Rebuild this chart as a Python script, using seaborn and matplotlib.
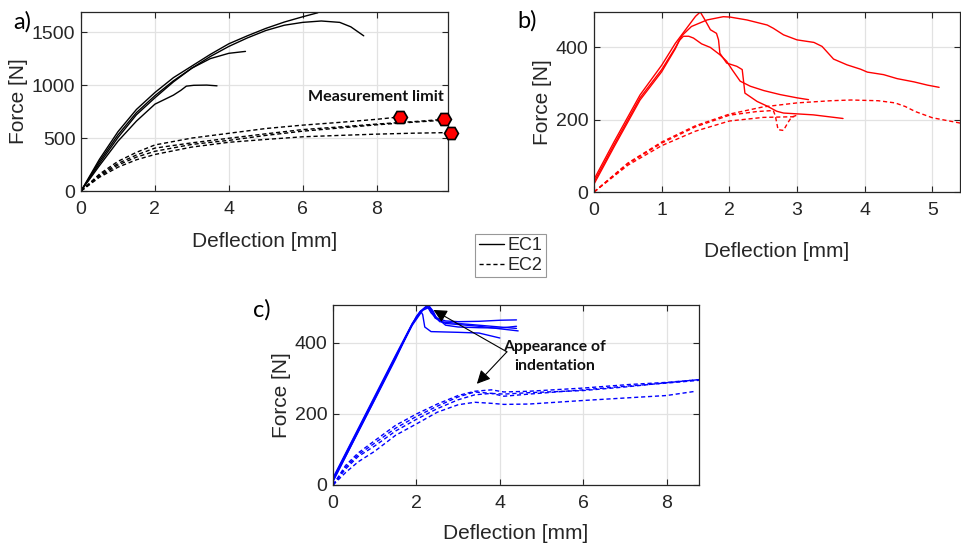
import numpy as np
import pandas as pd
import matplotlib
matplotlib.use('Agg')
import matplotlib.pyplot as plt
import seaborn as sns
from matplotlib.lines import Line2D

sns.set_theme(style='ticks')
plt.rcParams['font.family'] = ['Liberation Sans', 'DejaVu Sans']
plt.rcParams['lines.dashed_pattern'] = [3.0, 2.0]

# ---------------- Panel a (black) ----------------
a_ec1_1_x = [0, 0.5, 1, 1.5, 2, 2.5, 3, 3.5, 4, 4.5, 5, 5.5, 6, 6.41]
a_ec1_1_y = [0, 300, 560, 770, 930, 1070, 1180, 1290, 1390, 1465, 1535, 1595, 1645, 1683]
a_ec1_2_x = [0, 0.5, 1, 1.5, 2, 2.5, 3, 3.5, 4, 4.5, 5, 5.5, 6, 6.5, 7, 7.3, 7.65]
a_ec1_2_y = [0, 280, 530, 740, 900, 1040, 1160, 1270, 1365, 1445, 1515, 1565, 1592, 1605, 1592, 1550, 1465]
a_ec1_3_x = [0, 0.5, 1, 1.5, 2, 2.5, 3, 3.5, 4, 4.45]
a_ec1_3_y = [0, 260, 505, 720, 880, 1030, 1160, 1250, 1300, 1318]
a_ec1_4_x = [0, 0.5, 1, 1.5, 2, 2.5, 2.7, 2.85, 3.05, 3.4, 3.68]
a_ec1_4_y = [0, 240, 470, 660, 820, 905, 950, 990, 998, 1000, 993]

a_ec2_1_x = [0, 0.5, 1, 1.5, 2, 3, 4, 5, 6, 7, 8, 8.64]
a_ec2_1_y = [0, 160, 280, 365, 435, 500, 545, 590, 622, 648, 677, 700]
a_ec2_2_x = [0, 0.5, 1, 1.5, 2, 3, 4, 5, 6, 7, 8, 9, 9.81]
a_ec2_2_y = [0, 150, 260, 340, 405, 455, 498, 540, 580, 605, 632, 655, 676]
a_ec2_3_x = [0, 0.5, 1, 1.5, 2, 3, 4, 5, 6, 7, 8, 9, 9.81]
a_ec2_3_y = [0, 140, 245, 320, 375, 440, 478, 525, 565, 595, 625, 650, 668]
a_ec2_4_x = [0, 0.5, 1, 1.5, 2, 3, 4, 5, 6, 7, 8, 9, 10.0]
a_ec2_4_y = [0, 130, 225, 295, 345, 415, 460, 487, 512, 525, 537, 546, 552]

limit_x = [8.64, 9.81, 10.0]
limit_y = [700, 676, 552]

# ---------------- Panel b (red) ----------------
b_ec1_1_x = [0, 0.3, 0.68, 1.0, 1.2, 1.4, 1.5, 1.57, 1.64, 1.72, 1.81, 1.84, 1.86, 1.96,
             2.11, 2.19, 2.21, 2.23, 2.41, 2.56, 2.70, 2.80, 3.24, 3.68]
b_ec1_1_y = [35, 140, 268, 350, 410, 460, 485, 497, 475, 448, 438, 420, 383, 356,
             347, 338, 306, 273, 250, 237, 223, 218, 213, 203]
b_ec1_2_x = [0, 0.3, 0.68, 1.0, 1.2, 1.3, 1.44, 1.67, 1.91, 2.01, 2.26, 2.56, 2.65, 2.8,
             3.0, 3.25, 3.37, 3.54, 3.74, 3.94, 4.04, 4.28, 4.48, 4.73, 4.93, 5.10]
b_ec1_2_y = [28, 132, 260, 338, 398, 432, 457, 475, 484, 483, 475, 461, 452, 434,
             420, 413, 402, 367, 351, 339, 331, 324, 313, 304, 295, 289]
b_ec1_3_x = [0, 0.3, 0.68, 1.0, 1.2, 1.26, 1.32, 1.4, 1.47, 1.59, 1.72, 1.86, 1.96, 2.04,
             2.16, 2.31, 2.51, 2.75, 3.0, 3.17]
b_ec1_3_y = [22, 126, 254, 332, 395, 418, 430, 430, 425, 409, 399, 379, 361, 338,
             306, 292, 280, 269, 260, 255]

b_ec2_1_x = [0, 0.5, 1, 1.5, 2, 2.5, 3, 3.5, 3.8, 4.2, 4.45, 4.6, 4.75, 5.0, 5.42]
b_ec2_1_y = [0, 80, 138, 183, 215, 235, 246, 252, 254, 252, 246, 236, 222, 205, 190]
b_ec2_2_x = [0, 0.5, 1, 1.5, 2, 2.4, 2.65, 2.68, 2.72, 2.8, 2.86, 2.92, 3.0]
b_ec2_2_y = [0, 78, 135, 180, 212, 222, 225, 210, 172, 170, 190, 207, 212]
b_ec2_3_x = [0, 0.5, 1, 1.5, 2, 2.5, 3.0]
b_ec2_3_y = [0, 74, 128, 168, 196, 206, 208]

# ---------------- Panel c (blue) ----------------
c_ec1_1_x = [0, 1, 1.5, 1.9, 2.1, 2.28, 2.4, 2.48, 2.7, 3.0, 3.5, 4.0, 4.4]
c_ec1_1_y = [20, 250, 365, 455, 490, 507, 490, 470, 462, 460, 461, 464, 465]
c_ec1_2_x = [0, 1, 1.5, 1.9, 2.1, 2.25, 2.35, 2.56, 3.0, 3.5, 4.0, 4.4]
c_ec1_2_y = [15, 245, 360, 452, 488, 505, 485, 460, 455, 450, 445, 441]
c_ec1_3_x = [0, 1, 1.5, 1.9, 2.15, 2.3, 2.45, 2.7, 3.0, 3.5, 4.0, 4.44]
c_ec1_3_y = [10, 242, 358, 450, 492, 500, 470, 455, 452, 447, 440, 434]
c_ec1_4_x = [0, 1, 1.5, 1.8, 2.0, 2.1, 2.15, 2.2, 2.35, 3.0, 3.5, 4.0]
c_ec1_4_y = [12, 240, 355, 430, 475, 490, 480, 445, 432, 430, 428, 414]
c_ec1_5_x = [0, 1, 1.5, 1.9, 2.1, 2.3, 2.45, 2.7, 3.0, 3.5, 4.0, 4.4]
c_ec1_5_y = [18, 247, 362, 453, 489, 505, 475, 450, 445, 443, 442, 447]

c_ec2_1_x = [0, 0.3, 0.6, 1.0, 1.5, 2.0, 2.5, 3.0, 3.4, 3.8, 4.1, 4.7, 6, 7.1, 8, 8.8]
c_ec2_1_y = [0, 55, 90, 125, 168, 200, 228, 252, 264, 268, 262, 264, 273, 283, 289, 297]
c_ec2_2_x = [0, 0.3, 0.6, 1.0, 1.5, 2.0, 2.5, 3.0, 3.4, 3.8, 4.1, 4.7, 6, 7, 8, 8.8]
c_ec2_2_y = [0, 50, 85, 118, 160, 193, 222, 248, 262, 258, 250, 256, 268, 278, 287, 295]
c_ec2_3_x = [0, 0.3, 0.6, 1.0, 1.5, 2.0, 2.5, 3.0, 3.4, 3.8, 4.1, 4.7, 6, 7, 8, 8.8]
c_ec2_3_y = [0, 45, 80, 110, 152, 185, 215, 240, 254, 258, 256, 260, 266, 276, 288, 297]
c_ec2_4_x = [0, 0.3, 0.6, 1.0, 1.5, 2.0, 2.5, 3.0, 3.4, 3.8, 4.1, 4.7, 6, 7, 8, 8.7]
c_ec2_4_y = [0, 35, 65, 95, 140, 172, 205, 226, 233, 230, 227, 228, 238, 245, 252, 264]

legend_labels = ['EC1', 'EC2']
panel_labels = ['a)', 'b)', 'c)']

INK = '#262626'


def draw(ax, x, y, color, dashed=False):
    sns.lineplot(x=x, y=y, ax=ax, color=color, lw=1.0,
                 ls='--' if dashed else '-', estimator=None, sort=False,
                 legend=False)


def style(ax, xlim, ylim, xticks, yticks, xlabelpad):
    ax.set_xlim(*xlim)
    ax.set_ylim(*ylim)
    ax.set_xticks(xticks)
    ax.set_yticks(yticks)
    ax.grid(True, color='#e2e2e2', lw=0.9)
    ax.set_axisbelow(True)
    for s in ax.spines.values():
        s.set_visible(True)
        s.set_color(INK)
        s.set_linewidth(0.9)
    ax.tick_params(direction='in', length=4, width=0.8, top=True, right=True,
                   labelsize=14, colors=INK, pad=4)
    ax.tick_params(axis='x', pad=7)
    ax.set_xlabel('Deflection [mm]', fontsize=15, color=INK, labelpad=xlabelpad)
    ax.set_ylabel('Force [N]', fontsize=15, color=INK, labelpad=3)


fig = plt.figure(figsize=(9.62, 5.45), dpi=100)
axa = fig.add_axes([0.0842, 0.6495, 0.3815, 0.3285])
axb = fig.add_axes([0.6175, 0.6477, 0.3805, 0.3303])
axc = fig.add_axes([0.3462, 0.1101, 0.3805, 0.3303])

# Panel a
for xs, ys in [(a_ec1_1_x, a_ec1_1_y), (a_ec1_2_x, a_ec1_2_y),
               (a_ec1_3_x, a_ec1_3_y), (a_ec1_4_x, a_ec1_4_y)]:
    draw(axa, xs, ys, 'black')
for xs, ys in [(a_ec2_1_x, a_ec2_1_y), (a_ec2_2_x, a_ec2_2_y),
               (a_ec2_3_x, a_ec2_3_y), (a_ec2_4_x, a_ec2_4_y)]:
    draw(axa, xs, ys, 'black', dashed=True)
axa.plot(limit_x, limit_y, ls='none', marker='H', ms=10, mfc='#ff0000',
         mec='black', mew=1.2, clip_on=False, zorder=5)
style(axa, (0, 9.93), (0, 1690), [0, 2, 4, 6, 8], [0, 500, 1000, 1500], 10)
axa.text(7.97, 890, 'Measurement limit', family=['Lato', 'DejaVu Sans'],
         fontweight='bold', fontsize=11.6, ha='center', va='center', color='#111111')

# Panel b
for xs, ys in [(b_ec1_1_x, b_ec1_1_y), (b_ec1_2_x, b_ec1_2_y), (b_ec1_3_x, b_ec1_3_y)]:
    draw(axb, xs, ys, '#ff0000')
for xs, ys in [(b_ec2_1_x, b_ec2_1_y), (b_ec2_2_x, b_ec2_2_y), (b_ec2_3_x, b_ec2_3_y)]:
    draw(axb, xs, ys, '#ff0000', dashed=True)
style(axb, (0, 5.41), (0, 497), [0, 1, 2, 3, 4, 5], [0, 200, 400], 17)

# Panel c
for xs, ys in [(c_ec1_1_x, c_ec1_1_y), (c_ec1_2_x, c_ec1_2_y), (c_ec1_3_x, c_ec1_3_y),
               (c_ec1_4_x, c_ec1_4_y), (c_ec1_5_x, c_ec1_5_y)]:
    draw(axc, xs, ys, '#0000ff')
for xs, ys in [(c_ec2_1_x, c_ec2_1_y), (c_ec2_2_x, c_ec2_2_y),
               (c_ec2_3_x, c_ec2_3_y), (c_ec2_4_x, c_ec2_4_y)]:
    draw(axc, xs, ys, '#0000ff', dashed=True)
style(axc, (0, 8.78), (0, 507), [0, 2, 4, 6, 8], [0, 200, 400], 9)
for head in [(2.41, 493), (3.45, 285)]:
    axc.annotate('', xy=head, xytext=(4.17, 375),
                 arrowprops=dict(arrowstyle='-|>', mutation_scale=20, lw=0.8,
                                 color='black', shrinkA=0, shrinkB=0))
axc.text(5.32, 390, 'Appearance of', family=['Lato', 'DejaVu Sans'],
         fontweight='bold', fontsize=11.3, ha='center', va='center', color='#111111')
axc.text(5.32, 335, 'indentation', family=['Lato', 'DejaVu Sans'],
         fontweight='bold', fontsize=11.3, ha='center', va='center', color='#111111')

# Panel labels
for lab, (px, py) in zip(panel_labels, [(22, 22), (527, 21), (262, 310)]):
    fig.text(px / 962, 1 - py / 545, lab, fontsize=17, family=['Lato', 'DejaVu Sans'],
             ha='center', va='center', color='black')

# Legend
handles = [Line2D([], [], color='black', lw=1.0),
           Line2D([], [], color='black', lw=1.0, ls='--')]
leg = fig.legend(handles=handles, labels=legend_labels, loc='center',
                 bbox_to_anchor=(0.5307, 0.5312), frameon=True, fancybox=False,
                 edgecolor='#7f7f7f', handlelength=1.4, handletextpad=0.15,
                 borderpad=0.2, labelspacing=0.15, fontsize=13, borderaxespad=0)
leg.get_frame().set_linewidth(0.8)

fig.savefig('out.png', dpi=100)
